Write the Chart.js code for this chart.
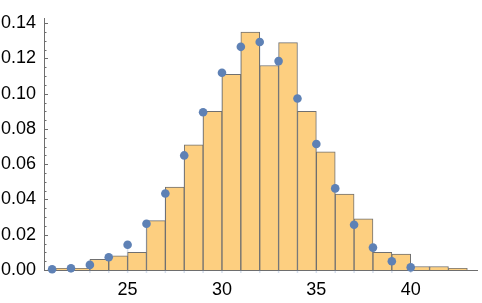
<!DOCTYPE html>
<html>
<head>
<meta charset="utf-8">
<script src="https://cdn.jsdelivr.net/npm/chart.js@4/dist/chart.umd.min.js"></script>
<style>
  html, body { margin: 0; padding: 0; background: #fff; }
  #wrap { width: 482px; height: 303px; }
</style>
</head>
<body>
<div id="wrap"><canvas id="chart" width="482" height="303"></canvas></div>
<script>
// histogram bins (left edges, width 1) and their densities
const binStarts = [21, 22, 23, 24, 25, 26, 27, 28, 29, 30, 31, 32, 33, 34, 35, 36, 37, 38, 39, 40, 41, 42];
const binHeights = [0.001, 0.001, 0.006, 0.008, 0.010, 0.028, 0.047, 0.071, 0.090, 0.111, 0.135, 0.116,
                    0.129, 0.090, 0.067, 0.043, 0.029, 0.010, 0.009, 0.002, 0.002, 0.001];

// discrete distribution points
const pointX = [20, 21, 22, 23, 24, 25, 26, 27, 28, 29, 30, 31, 32, 33, 34, 35, 36, 37, 38, 39, 40];
const pointY = [0.0001, 0.0004, 0.001, 0.0029, 0.0072, 0.0143, 0.0262, 0.0434, 0.065, 0.0895, 0.1119,
                0.1266, 0.1293, 0.1185, 0.0973, 0.0715, 0.0463, 0.0257, 0.0127, 0.005, 0.0015];

const xTicks = [25, 30, 35, 40];
const yTicks = [0, 0.02, 0.04, 0.06, 0.08, 0.10, 0.12, 0.14];

const axisColor = '#6e6e6e';

// ticks pointing into the plot + faint stems under the points
const extras = {
    id: 'extras',
    beforeDatasetsDraw(chart) {
        const ctx = chart.ctx;
        const xs = chart.scales.x, ys = chart.scales.y;
        ctx.save();
        ctx.strokeStyle = 'rgba(94,129,181,0.25)';
        ctx.lineWidth = 1.5;
        pointX.forEach((v, i) => {
            const px = xs.getPixelForValue(v);
            if (px < chart.chartArea.left) return;
            ctx.beginPath();
            ctx.moveTo(px, ys.getPixelForValue(pointY[i]));
            ctx.lineTo(px, ys.getPixelForValue(0) + 3);
            ctx.stroke();
        });
        ctx.restore();
    },
    afterDraw(chart) {
        const ctx = chart.ctx;
        const ys = chart.scales.y;
        const left = chart.chartArea.left;
        ctx.save();
        ctx.strokeStyle = axisColor;
        ctx.lineWidth = 1;
        for (let v = 0; v <= 0.1425; v += 0.005) {
            const major = Math.abs(v / 0.02 - Math.round(v / 0.02)) < 1e-6;
            const py = Math.round(ys.getPixelForValue(v)) + 0.5;
            ctx.beginPath();
            ctx.moveTo(left, py);
            ctx.lineTo(left + (major ? 4 : 2.5), py);
            ctx.stroke();
        }
        ctx.restore();
    }
};

new Chart(document.getElementById('chart'), {
    data: {
        datasets: [
            {
                type: 'scatter',
                data: pointX.map((v, i) => ({ x: v, y: pointY[i] })),
                backgroundColor: '#5e81b5',
                borderColor: '#5e81b5',
                pointRadius: 4.3,
                pointHoverRadius: 4.3,
                borderWidth: 0,
                clip: false,
                order: 0
            },
            {
                type: 'bar',
                data: binStarts.map((v, i) => ({ x: v + 0.5, y: binHeights[i] })),
                backgroundColor: '#fdcf80',
                borderColor: '#707070',
                borderWidth: 1,
                borderSkipped: 'bottom',
                barPercentage: 1,
                categoryPercentage: 1,
                order: 1
            }
        ]
    },
    options: {
        responsive: false,
        animation: false,
        layout: { padding: { top: 7, right: 3, left: 0, bottom: 0 } },
        plugins: { legend: { display: false }, tooltip: { enabled: false } },
        scales: {
            x: {
                type: 'linear',
                offset: false,
                min: 20.57,
                max: 43.55,
                afterBuildTicks: s => { s.ticks = xTicks.map(v => ({ value: v })); },
                afterFit: s => { s.height = 33; },
                grid: { display: false, drawTicks: false },
                border: { display: true, color: axisColor, width: 1 },
                ticks: {
                    color: '#000',
                    padding: 9,
                    font: { family: 'Liberation Sans', size: 18 },
                    callback: v => String(v)
                }
            },
            y: {
                type: 'linear',
                min: 0,
                max: 0.1425,
                z: 1,
                afterBuildTicks: s => { s.ticks = yTicks.map(v => ({ value: v })); },
                afterFit: s => { s.width = 44; },
                grid: { display: false, drawTicks: false },
                border: { display: true, color: axisColor, width: 1 },
                ticks: {
                    color: '#000',
                    padding: 8,
                    font: { family: 'Liberation Sans', size: 18 },
                    callback: v => v.toFixed(2)
                }
            }
        }
    },
    plugins: [extras]
});
</script>
</body>
</html>
